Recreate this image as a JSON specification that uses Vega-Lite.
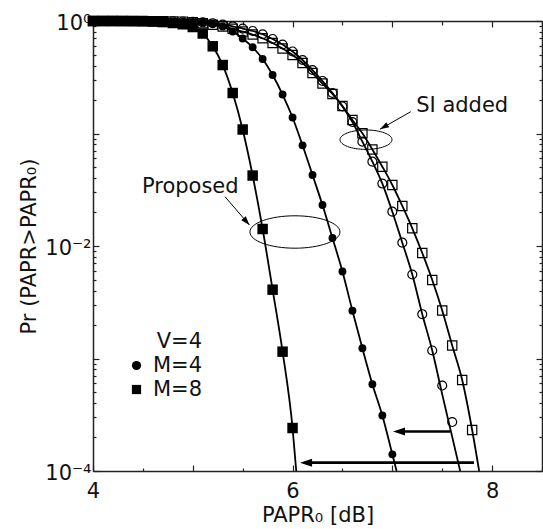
{
  "$schema": "https://vega.github.io/schema/vega-lite/v6.json",
  "width": 449,
  "height": 450,
  "autosize": {"type": "none"},
  "padding": {"left": 93, "top": 21, "right": 1, "bottom": 58},
  "background": "white",
  "config": {
    "font": "DejaVu Sans",
    "view": {"stroke": null},
    "axis": {
      "grid": false,
      "domainColor": "#222",
      "domainWidth": 1.5,
      "tickColor": "#222",
      "tickWidth": 1.2,
      "labelColor": "#111",
      "labelFontSize": 21,
      "labelFont": "DejaVu Sans",
      "titleFont": "DejaVu Sans",
      "titleFontSize": 21,
      "titleFontWeight": "normal",
      "titleColor": "#111",
      "labelOverlap": false,
      "labelBound": false,
      "labelFlush": false
    },
    "text": {"font": "DejaVu Sans"}
  },
  "datasets": {
    "curves": [
      {"s": "P8", "x": 4.0, "p": 1}, {"s": "P8", "x": 4.1, "p": 1}, {"s": "P8", "x": 4.2, "p": 1}, {"s": "P8", "x": 4.3, "p": 0.999}, {"s": "P8", "x": 4.4, "p": 0.997}, {"s": "P8", "x": 4.5, "p": 0.994}, {"s": "P8", "x": 4.6, "p": 0.988}, {"s": "P8", "x": 4.7, "p": 0.978}, {"s": "P8", "x": 4.8, "p": 0.96}, {"s": "P8", "x": 4.9, "p": 0.935}, {"s": "P8", "x": 5.0, "p": 0.884}, {"s": "P8", "x": 5.1, "p": 0.774}, {"s": "P8", "x": 5.2, "p": 0.596}, {"s": "P8", "x": 5.3, "p": 0.406}, {"s": "P8", "x": 5.4, "p": 0.229}, {"s": "P8", "x": 5.5, "p": 0.1085}, {"s": "P8", "x": 5.6, "p": 0.0423}, {"s": "P8", "x": 5.7, "p": 0.01416}, {"s": "P8", "x": 5.8, "p": 0.00409}, {"s": "P8", "x": 5.9, "p": 0.00115}, {"s": "P8", "x": 6.0, "p": 0.000241}, {"s": "P8", "x": 6.037, "p": 0.0001},
      {"s": "P4", "x": 4.0, "p": 1}, {"s": "P4", "x": 4.1, "p": 1}, {"s": "P4", "x": 4.2, "p": 1}, {"s": "P4", "x": 4.3, "p": 1}, {"s": "P4", "x": 4.4, "p": 1}, {"s": "P4", "x": 4.5, "p": 0.999}, {"s": "P4", "x": 4.6, "p": 0.998}, {"s": "P4", "x": 4.7, "p": 0.996}, {"s": "P4", "x": 4.8, "p": 0.993}, {"s": "P4", "x": 4.9, "p": 0.988}, {"s": "P4", "x": 5.0, "p": 0.98}, {"s": "P4", "x": 5.1, "p": 0.972}, {"s": "P4", "x": 5.2, "p": 0.945}, {"s": "P4", "x": 5.3, "p": 0.894}, {"s": "P4", "x": 5.4, "p": 0.807}, {"s": "P4", "x": 5.5, "p": 0.699}, {"s": "P4", "x": 5.6, "p": 0.584}, {"s": "P4", "x": 5.7, "p": 0.46}, {"s": "P4", "x": 5.8, "p": 0.331}, {"s": "P4", "x": 5.9, "p": 0.222}, {"s": "P4", "x": 6.0, "p": 0.1388}, {"s": "P4", "x": 6.1, "p": 0.0785}, {"s": "P4", "x": 6.2, "p": 0.04277}, {"s": "P4", "x": 6.3, "p": 0.02314}, {"s": "P4", "x": 6.4, "p": 0.01178}, {"s": "P4", "x": 6.5, "p": 0.005934}, {"s": "P4", "x": 6.6, "p": 0.00266}, {"s": "P4", "x": 6.7, "p": 0.001232}, {"s": "P4", "x": 6.8, "p": 0.000591}, {"s": "P4", "x": 6.9, "p": 0.0003113}, {"s": "P4", "x": 7.0, "p": 0.0001407}, {"s": "P4", "x": 7.043, "p": 0.0001},
      {"s": "S4", "x": 4.0, "p": 1}, {"s": "S4", "x": 4.1, "p": 1}, {"s": "S4", "x": 4.2, "p": 1}, {"s": "S4", "x": 4.3, "p": 1}, {"s": "S4", "x": 4.4, "p": 0.999}, {"s": "S4", "x": 4.5, "p": 0.999}, {"s": "S4", "x": 4.6, "p": 0.998}, {"s": "S4", "x": 4.7, "p": 0.997}, {"s": "S4", "x": 4.8, "p": 0.995}, {"s": "S4", "x": 4.9, "p": 0.99}, {"s": "S4", "x": 5.0, "p": 0.9858}, {"s": "S4", "x": 5.1, "p": 0.9737}, {"s": "S4", "x": 5.2, "p": 0.956}, {"s": "S4", "x": 5.3, "p": 0.9309}, {"s": "S4", "x": 5.4, "p": 0.8972}, {"s": "S4", "x": 5.5, "p": 0.8559}, {"s": "S4", "x": 5.6, "p": 0.815}, {"s": "S4", "x": 5.7, "p": 0.762}, {"s": "S4", "x": 5.8, "p": 0.692}, {"s": "S4", "x": 5.9, "p": 0.618}, {"s": "S4", "x": 6.0, "p": 0.536}, {"s": "S4", "x": 6.1, "p": 0.45}, {"s": "S4", "x": 6.2, "p": 0.3667}, {"s": "S4", "x": 6.3, "p": 0.2929}, {"s": "S4", "x": 6.4, "p": 0.2291}, {"s": "S4", "x": 6.5, "p": 0.1738}, {"s": "S4", "x": 6.6, "p": 0.1265}, {"s": "S4", "x": 6.7, "p": 0.0846}, {"s": "S4", "x": 6.8, "p": 0.0562}, {"s": "S4", "x": 6.9, "p": 0.0359}, {"s": "S4", "x": 7.0, "p": 0.02018}, {"s": "S4", "x": 7.1, "p": 0.0107}, {"s": "S4", "x": 7.2, "p": 0.00558}, {"s": "S4", "x": 7.3, "p": 0.002476}, {"s": "S4", "x": 7.4, "p": 0.001178}, {"s": "S4", "x": 7.5, "p": 0.00048}, {"s": "S4", "x": 7.6, "p": 0.000201}, {"s": "S4", "x": 7.68, "p": 0.0001},
      {"s": "S8", "x": 4.0, "p": 1}, {"s": "S8", "x": 4.1, "p": 1}, {"s": "S8", "x": 4.2, "p": 1}, {"s": "S8", "x": 4.3, "p": 0.999}, {"s": "S8", "x": 4.4, "p": 0.999}, {"s": "S8", "x": 4.5, "p": 0.998}, {"s": "S8", "x": 4.6, "p": 0.997}, {"s": "S8", "x": 4.7, "p": 0.995}, {"s": "S8", "x": 4.8, "p": 0.992}, {"s": "S8", "x": 4.9, "p": 0.987}, {"s": "S8", "x": 5.0, "p": 0.9757}, {"s": "S8", "x": 5.1, "p": 0.954}, {"s": "S8", "x": 5.2, "p": 0.9271}, {"s": "S8", "x": 5.3, "p": 0.8936}, {"s": "S8", "x": 5.4, "p": 0.8526}, {"s": "S8", "x": 5.5, "p": 0.8048}, {"s": "S8", "x": 5.6, "p": 0.7586}, {"s": "S8", "x": 5.7, "p": 0.7019}, {"s": "S8", "x": 5.8, "p": 0.6374}, {"s": "S8", "x": 5.9, "p": 0.5694}, {"s": "S8", "x": 6.0, "p": 0.4985}, {"s": "S8", "x": 6.1, "p": 0.4232}, {"s": "S8", "x": 6.2, "p": 0.3449}, {"s": "S8", "x": 6.3, "p": 0.2783}, {"s": "S8", "x": 6.4, "p": 0.2244}, {"s": "S8", "x": 6.5, "p": 0.1756}, {"s": "S8", "x": 6.6, "p": 0.1318}, {"s": "S8", "x": 6.7, "p": 0.1004}, {"s": "S8", "x": 6.8, "p": 0.0721}, {"s": "S8", "x": 6.9, "p": 0.0507}, {"s": "S8", "x": 7.0, "p": 0.03485}, {"s": "S8", "x": 7.1, "p": 0.02268}, {"s": "S8", "x": 7.2, "p": 0.01437}, {"s": "S8", "x": 7.3, "p": 0.00867}, {"s": "S8", "x": 7.4, "p": 0.004986}, {"s": "S8", "x": 7.5, "p": 0.002671}, {"s": "S8", "x": 7.6, "p": 0.001305}, {"s": "S8", "x": 7.7, "p": 0.000644}, {"s": "S8", "x": 7.8, "p": 0.0002314}, {"s": "S8", "x": 7.87, "p": 0.0001}
    ],
    "prop": [
      {"M": "M=8", "x": 4.0, "p": 1}, {"M": "M=8", "x": 4.1, "p": 1}, {"M": "M=8", "x": 4.2, "p": 1}, {"M": "M=8", "x": 4.3, "p": 0.999}, {"M": "M=8", "x": 4.4, "p": 0.997}, {"M": "M=8", "x": 4.5, "p": 0.994}, {"M": "M=8", "x": 4.6, "p": 0.988}, {"M": "M=8", "x": 4.7, "p": 0.978}, {"M": "M=8", "x": 4.8, "p": 0.96}, {"M": "M=8", "x": 4.9, "p": 0.935}, {"M": "M=8", "x": 5.0, "p": 0.884}, {"M": "M=8", "x": 5.1, "p": 0.774}, {"M": "M=8", "x": 5.2, "p": 0.596}, {"M": "M=8", "x": 5.3, "p": 0.406}, {"M": "M=8", "x": 5.4, "p": 0.229}, {"M": "M=8", "x": 5.5, "p": 0.1085}, {"M": "M=8", "x": 5.6, "p": 0.0423}, {"M": "M=8", "x": 5.7, "p": 0.01416}, {"M": "M=8", "x": 5.8, "p": 0.00409}, {"M": "M=8", "x": 5.9, "p": 0.00115}, {"M": "M=8", "x": 6.0, "p": 0.000241},
      {"M": "M=4", "x": 4.0, "p": 1}, {"M": "M=4", "x": 4.1, "p": 1}, {"M": "M=4", "x": 4.2, "p": 1}, {"M": "M=4", "x": 4.3, "p": 1}, {"M": "M=4", "x": 4.4, "p": 1}, {"M": "M=4", "x": 4.5, "p": 0.999}, {"M": "M=4", "x": 4.6, "p": 0.998}, {"M": "M=4", "x": 4.7, "p": 0.996}, {"M": "M=4", "x": 4.8, "p": 0.993}, {"M": "M=4", "x": 4.9, "p": 0.988}, {"M": "M=4", "x": 5.0, "p": 0.98}, {"M": "M=4", "x": 5.1, "p": 0.972}, {"M": "M=4", "x": 5.2, "p": 0.945}, {"M": "M=4", "x": 5.3, "p": 0.894}, {"M": "M=4", "x": 5.4, "p": 0.807}, {"M": "M=4", "x": 5.5, "p": 0.699}, {"M": "M=4", "x": 5.6, "p": 0.584}, {"M": "M=4", "x": 5.7, "p": 0.46}, {"M": "M=4", "x": 5.8, "p": 0.331}, {"M": "M=4", "x": 5.9, "p": 0.222}, {"M": "M=4", "x": 6.0, "p": 0.1388}, {"M": "M=4", "x": 6.1, "p": 0.0785}, {"M": "M=4", "x": 6.2, "p": 0.04277}, {"M": "M=4", "x": 6.3, "p": 0.02314}, {"M": "M=4", "x": 6.4, "p": 0.01178}, {"M": "M=4", "x": 6.5, "p": 0.005934}, {"M": "M=4", "x": 6.6, "p": 0.00266}, {"M": "M=4", "x": 6.7, "p": 0.001232}, {"M": "M=4", "x": 6.8, "p": 0.000591}, {"M": "M=4", "x": 6.9, "p": 0.0003113}, {"M": "M=4", "x": 7.0, "p": 0.0001407}
    ],
    "si": [
      {"M": "M=4", "x": 4.0, "p": 1}, {"M": "M=4", "x": 4.1, "p": 1}, {"M": "M=4", "x": 4.2, "p": 1}, {"M": "M=4", "x": 4.3, "p": 1}, {"M": "M=4", "x": 4.4, "p": 0.999}, {"M": "M=4", "x": 4.5, "p": 0.999}, {"M": "M=4", "x": 4.6, "p": 0.998}, {"M": "M=4", "x": 4.7, "p": 0.997}, {"M": "M=4", "x": 4.8, "p": 0.995}, {"M": "M=4", "x": 4.9, "p": 0.99}, {"M": "M=4", "x": 5.0, "p": 0.9858}, {"M": "M=4", "x": 5.1, "p": 0.9737}, {"M": "M=4", "x": 5.2, "p": 0.956}, {"M": "M=4", "x": 5.3, "p": 0.9309}, {"M": "M=4", "x": 5.4, "p": 0.8972}, {"M": "M=4", "x": 5.5, "p": 0.8559}, {"M": "M=4", "x": 5.6, "p": 0.815}, {"M": "M=4", "x": 5.7, "p": 0.762}, {"M": "M=4", "x": 5.8, "p": 0.692}, {"M": "M=4", "x": 5.9, "p": 0.618}, {"M": "M=4", "x": 6.0, "p": 0.536}, {"M": "M=4", "x": 6.1, "p": 0.45}, {"M": "M=4", "x": 6.2, "p": 0.3667}, {"M": "M=4", "x": 6.3, "p": 0.2929}, {"M": "M=4", "x": 6.4, "p": 0.2291}, {"M": "M=4", "x": 6.5, "p": 0.1738}, {"M": "M=4", "x": 6.6, "p": 0.1265}, {"M": "M=4", "x": 6.7, "p": 0.0846}, {"M": "M=4", "x": 6.8, "p": 0.0562}, {"M": "M=4", "x": 6.9, "p": 0.0359}, {"M": "M=4", "x": 7.0, "p": 0.02018}, {"M": "M=4", "x": 7.1, "p": 0.0107}, {"M": "M=4", "x": 7.2, "p": 0.00558}, {"M": "M=4", "x": 7.3, "p": 0.002476}, {"M": "M=4", "x": 7.4, "p": 0.001178}, {"M": "M=4", "x": 7.5, "p": 0.000575}, {"M": "M=4", "x": 7.6, "p": 0.0002726},
      {"M": "M=8", "x": 4.0, "p": 1}, {"M": "M=8", "x": 4.1, "p": 1}, {"M": "M=8", "x": 4.2, "p": 1}, {"M": "M=8", "x": 4.3, "p": 0.999}, {"M": "M=8", "x": 4.4, "p": 0.999}, {"M": "M=8", "x": 4.5, "p": 0.998}, {"M": "M=8", "x": 4.6, "p": 0.997}, {"M": "M=8", "x": 4.7, "p": 0.995}, {"M": "M=8", "x": 4.8, "p": 0.992}, {"M": "M=8", "x": 4.9, "p": 0.987}, {"M": "M=8", "x": 5.0, "p": 0.9757}, {"M": "M=8", "x": 5.1, "p": 0.954}, {"M": "M=8", "x": 5.2, "p": 0.9271}, {"M": "M=8", "x": 5.3, "p": 0.8936}, {"M": "M=8", "x": 5.4, "p": 0.8526}, {"M": "M=8", "x": 5.5, "p": 0.8048}, {"M": "M=8", "x": 5.6, "p": 0.7586}, {"M": "M=8", "x": 5.7, "p": 0.7019}, {"M": "M=8", "x": 5.8, "p": 0.6374}, {"M": "M=8", "x": 5.9, "p": 0.5694}, {"M": "M=8", "x": 6.0, "p": 0.4985}, {"M": "M=8", "x": 6.1, "p": 0.4232}, {"M": "M=8", "x": 6.2, "p": 0.3449}, {"M": "M=8", "x": 6.3, "p": 0.2783}, {"M": "M=8", "x": 6.4, "p": 0.2244}, {"M": "M=8", "x": 6.5, "p": 0.1756}, {"M": "M=8", "x": 6.6, "p": 0.1318}, {"M": "M=8", "x": 6.7, "p": 0.1004}, {"M": "M=8", "x": 6.8, "p": 0.0721}, {"M": "M=8", "x": 6.9, "p": 0.0507}, {"M": "M=8", "x": 7.0, "p": 0.03485}, {"M": "M=8", "x": 7.1, "p": 0.02268}, {"M": "M=8", "x": 7.2, "p": 0.01437}, {"M": "M=8", "x": 7.3, "p": 0.00867}, {"M": "M=8", "x": 7.4, "p": 0.004986}, {"M": "M=8", "x": 7.5, "p": 0.002671}, {"M": "M=8", "x": 7.6, "p": 0.001305}, {"M": "M=8", "x": 7.7, "p": 0.000644}, {"M": "M=8", "x": 7.8, "p": 0.0002314}
    ]
  },
  "layer": [
    {
      "data": {"name": "curves"},
      "mark": {"type": "line", "color": "black", "strokeWidth": 1.8, "interpolate": "monotone"},
      "encoding": {
        "x": {"field": "x", "type": "quantitative", "scale": {"domain": [4, 8.5], "nice": false, "zero": false},
          "axis": {"orient": "bottom", "values": [4, 4.5, 5, 5.5, 6, 6.5, 7, 7.5, 8, 8.5],
            "labelExpr": "datum.value % 2 == 0 ? format(datum.value, 'd') : ''",
            "tickSize": {"condition": {"test": "datum.value % 1 == 0", "value": -6}, "value": -3},
            "labelPadding": 15, "title": "PAPR₀ [dB]", "titlePadding": 0}},
        "y": {"field": "p", "type": "quantitative", "scale": {"type": "log", "domain": [0.0001, 1], "nice": false},
          "axis": {"orient": "left",
            "values": [0.0001, 0.0002, 0.0003, 0.0004, 0.0005, 0.0006, 0.0007, 0.0008, 0.0009, 0.001, 0.002, 0.003, 0.004, 0.005, 0.006, 0.007, 0.008, 0.009, 0.01, 0.02, 0.03, 0.04, 0.05, 0.06, 0.07, 0.08, 0.09, 0.1, 0.2, 0.3, 0.4, 0.5, 0.6, 0.7, 0.8, 0.9, 1],
            "labelExpr": "datum.value == 1 ? '10⁰' : datum.value == 0.01 ? '10⁻²' : datum.value == 0.0001 ? '10⁻⁴' : ''",
            "tickSize": {"condition": {"test": "indexof([1, 0.1, 0.01, 0.001, 0.0001], datum.value) >= 0", "value": -6}, "value": -3},
            "labelPadding": 8, "labelOffset": 2, "title": "Pr (PAPR>PAPR₀)", "titlePadding": 5}},
        "detail": {"field": "s", "type": "nominal"}
      }
    },
    {
      "data": {"name": "prop"},
      "mark": {"type": "point", "filled": true, "color": "black", "opacity": 1},
      "encoding": {
        "x": {"field": "x", "type": "quantitative", "scale": {"domain": [4, 8.5], "nice": false, "zero": false},
          "axis": {"orient": "top", "values": [4, 4.5, 5, 5.5, 6, 6.5, 7, 7.5, 8, 8.5], "labels": false,
            "tickSize": {"condition": {"test": "datum.value % 1 == 0", "value": -6}, "value": -4}, "title": null}},
        "y": {"field": "p", "type": "quantitative", "scale": {"type": "log", "domain": [0.0001, 1], "nice": false},
          "axis": {"orient": "right", "labels": false, "title": null,
            "values": [0.0001, 0.0002, 0.0003, 0.0004, 0.0005, 0.0006, 0.0007, 0.0008, 0.0009, 0.001, 0.002, 0.003, 0.004, 0.005, 0.006, 0.007, 0.008, 0.009, 0.01, 0.02, 0.03, 0.04, 0.05, 0.06, 0.07, 0.08, 0.09, 0.1, 0.2, 0.3, 0.4, 0.5, 0.6, 0.7, 0.8, 0.9, 1],
            "tickSize": {"condition": {"test": "indexof([1, 0.1, 0.01, 0.001, 0.0001], datum.value) >= 0", "value": -6}, "value": -3}}},
        "shape": {"field": "M", "type": "nominal", "scale": {"domain": ["M=4", "M=8"], "range": ["circle", "square"]},
          "legend": {"title": "V=4", "orient": "none", "legendX": 33, "legendY": 310, "titleFontSize": 21, "titleFontWeight": "normal", "titleColor": "#111", "titleAnchor": "end", "titlePadding": 3, "labelFontSize": 21, "labelColor": "#111", "labelOffset": 6, "rowPadding": 2, "padding": 0, "symbolSize": 85, "symbolStrokeWidth": 0, "symbolFillColor": "black"}},
        "size": {"field": "M", "type": "nominal", "scale": {"domain": ["M=4", "M=8"], "range": [62, 110]}, "legend": null}
      }
    },
    {
      "data": {"name": "si"},
      "mark": {"type": "point", "filled": false, "color": "black", "opacity": 1, "strokeWidth": 1.2},
      "encoding": {
        "x": {"field": "x", "type": "quantitative", "scale": {"domain": [4, 8.5], "nice": false, "zero": false}, "axis": null},
        "y": {"field": "p", "type": "quantitative", "scale": {"type": "log", "domain": [0.0001, 1], "nice": false}, "axis": null},
        "shape": {"field": "M", "type": "nominal", "scale": {"domain": ["M=4", "M=8"], "range": ["circle", "square"]}, "legend": null},
        "size": {"field": "M", "type": "nominal", "scale": {"domain": ["M=4", "M=8"], "range": [80, 86]}, "legend": null}
      }
    },
    {
      "data": {"values": [{"x": 6.024, "p": 0.01332}]},
      "mark": {"type": "point", "shape": "M-1,0A1,0.36,0,1,1,1,0A1,0.36,0,1,1,-1,0Z", "size": 8100, "filled": false, "stroke": "black", "strokeWidth": 1, "opacity": 1},
      "encoding": {
        "x": {"field": "x", "type": "quantitative", "axis": null},
        "y": {"field": "p", "type": "quantitative", "axis": null}
      }
    },
    {
      "data": {"values": [{"x": 6.736, "p": 0.0881}]},
      "mark": {"type": "point", "shape": "M-1,0A1,0.373,0,1,1,1,0A1,0.373,0,1,1,-1,0Z", "size": 2704, "filled": false, "stroke": "black", "strokeWidth": 1, "opacity": 1},
      "encoding": {
        "x": {"field": "x", "type": "quantitative", "axis": null},
        "y": {"field": "p", "type": "quantitative", "axis": null}
      }
    },
    {
      "data": {"values": [{"x": 5.323, "p": 0.02742, "x2": 5.568, "p2": 0.01537}, {"x": 7.184, "p": 0.1562, "x2": 6.876, "p2": 0.109}]},
      "mark": {"type": "rule", "color": "black", "strokeWidth": 1},
      "encoding": {
        "x": {"field": "x", "type": "quantitative", "axis": null},
        "y": {"field": "p", "type": "quantitative", "axis": null},
        "x2": {"field": "x2"},
        "y2": {"field": "p2"}
      }
    },
    {
      "data": {"values": [{"x": 7.578, "p": 0.0002244, "x2": 7.05, "p2": 0.0002244}, {"x": 7.818, "p": 0.0001186, "x2": 6.12, "p2": 0.0001186}]},
      "mark": {"type": "rule", "color": "black", "strokeWidth": 2.6},
      "encoding": {
        "x": {"field": "x", "type": "quantitative", "axis": null},
        "y": {"field": "p", "type": "quantitative", "axis": null},
        "x2": {"field": "x2"},
        "y2": {"field": "p2"}
      }
    },
    {
      "data": {"values": [{"x": 5.568, "p": 0.01537}]},
      "mark": {"type": "point", "shape": "M0,0L-0.33,1L0.33,1Z", "size": 324, "angle": 139, "filled": true, "color": "black", "opacity": 1},
      "encoding": {
        "x": {"field": "x", "type": "quantitative", "axis": null},
        "y": {"field": "p", "type": "quantitative", "axis": null}
      }
    },
    {
      "data": {"values": [{"x": 6.876, "p": 0.109}]},
      "mark": {"type": "point", "shape": "M0,0L-0.33,1L0.33,1Z", "size": 324, "angle": 240, "filled": true, "color": "black", "opacity": 1},
      "encoding": {
        "x": {"field": "x", "type": "quantitative", "axis": null},
        "y": {"field": "p", "type": "quantitative", "axis": null}
      }
    },
    {
      "data": {"values": [{"x": 7.007, "p": 0.0002244}, {"x": 6.075, "p": 0.0001186}]},
      "mark": {"type": "point", "shape": "M0,0L-0.33,1L0.33,1Z", "size": 576, "angle": 270, "filled": true, "color": "black", "opacity": 1},
      "encoding": {
        "x": {"field": "x", "type": "quantitative", "axis": null},
        "y": {"field": "p", "type": "quantitative", "axis": null}
      }
    },
    {
      "data": {"values": [{"x": 4.975, "p": 0.02977, "label": "Proposed"}, {"x": 7.7, "p": 0.1562, "label": "SI added"}]},
      "mark": {"type": "text", "fontSize": 21, "align": "center", "baseline": "alphabetic", "color": "#111", "font": "DejaVu Sans"},
      "encoding": {
        "x": {"field": "x", "type": "quantitative", "axis": null},
        "y": {"field": "p", "type": "quantitative", "axis": null},
        "text": {"field": "label"}
      }
    }
  ],
  "resolve": {"axis": {"x": "independent", "y": "independent"}, "scale": {"size": "independent"}}
}
